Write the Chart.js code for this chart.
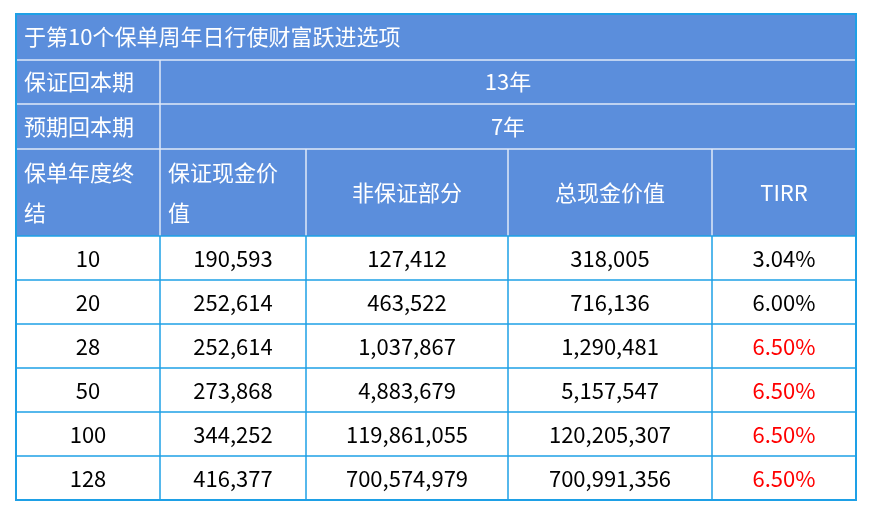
<!DOCTYPE html>
<html>
<head>
<meta charset="utf-8">
<script src="https://cdn.jsdelivr.net/npm/chart.js@4"></script>
<style>
  html, body { margin: 0; padding: 0; background: #fff; }
</style>
</head>
<body>
<canvas id="tableChart" width="872" height="516"></canvas>
<script>
// Table data
const titleText = '于第10个保单周年日行使财富跃进选项';
const infoLabels = ['保证回本期', '预期回本期'];
const infoValues = ['13年', '7年'];
const headers = [['保单年度终', '结'], ['保证现金价', '值'], ['非保证部分'], ['总现金价值'], ['TIRR']];
const years = ['10', '20', '28', '50', '100', '128'];
const guaranteed = ['190,593', '252,614', '252,614', '273,868', '344,252', '416,377'];
const nonGuaranteed = ['127,412', '463,522', '1,037,867', '4,883,679', '119,861,055', '700,574,979'];
const totalValue = ['318,005', '716,136', '1,290,481', '5,157,547', '120,205,307', '700,991,356'];
const tirr = ['3.04%', '6.00%', '6.50%', '6.50%', '6.50%', '6.50%'];

// Layout (scale units)
const colEdges = [0, 144, 290, 492, 696, 840];
const rowEdges = [0, 46, 90, 135, 222, 266, 310, 354, 398, 442, 486];
const headerBg = '#5b8edc';
const borderBlue = '#1ea0e6';
const font = '"Noto Sans CJK SC", "Noto Sans", sans-serif';

const tablePlugin = {
    id: 'tablePlugin',
    afterDraw(chart) {
        const ctx = chart.ctx;
        const x = v => chart.scales.x.getPixelForValue(v);
        const y = v => chart.scales.y.getPixelForValue(v);
        const left = x(0), right = x(840);

        ctx.save();
        // header background
        ctx.fillStyle = headerBg;
        ctx.fillRect(left, y(0), right - left, y(rowEdges[4]) - y(0));

        // header inner lines (white)
        ctx.strokeStyle = '#dfe9f8';
        ctx.lineWidth = 1.5;
        const line = (x1, y1, x2, y2) => {
            ctx.beginPath();
            ctx.moveTo(x1, y1); ctx.lineTo(x2, y2); ctx.stroke();
        };
        for (let r = 1; r <= 3; r++) line(left, y(rowEdges[r]), right, y(rowEdges[r]));
        line(x(colEdges[1]), y(rowEdges[1]), x(colEdges[1]), y(rowEdges[4]));
        for (let c = 2; c < 5; c++) line(x(colEdges[c]), y(rowEdges[3]), x(colEdges[c]), y(rowEdges[4]));

        // body lines (blue)
        ctx.strokeStyle = borderBlue;
        ctx.lineWidth = 1.5;
        for (let r = 4; r < rowEdges.length; r++) line(left, y(rowEdges[r]), right, y(rowEdges[r]));
        for (let c = 1; c < 5; c++) line(x(colEdges[c]), y(rowEdges[4]), x(colEdges[c]), y(rowEdges[10]));
        ctx.lineWidth = 2;
        ctx.strokeRect(left, y(0), right - left, y(486) - y(0));

        // texts
        ctx.font = '22px ' + font;
        ctx.textBaseline = 'middle';
        const midY = r => (y(rowEdges[r]) + y(rowEdges[r + 1])) / 2;
        const midX = c => (x(colEdges[c]) + x(colEdges[c + 1])) / 2;

        ctx.fillStyle = '#ffffff';
        ctx.textAlign = 'left';
        ctx.fillText(titleText, left + 8, midY(0));
        infoLabels.forEach((t, i) => ctx.fillText(t, left + 8, midY(i + 1)));
        ctx.textAlign = 'center';
        const spanMid = (x(colEdges[1]) + right) / 2;
        infoValues.forEach((t, i) => ctx.fillText(t, spanMid, midY(i + 1)));

        headers.forEach((lines, c) => {
            const cy = midY(3);
            if (lines.length === 2) {
                ctx.textAlign = 'left';
                ctx.fillText(lines[0], x(colEdges[c]) + 8, cy - 20);
                ctx.fillText(lines[1], x(colEdges[c]) + 8, cy + 20);
            } else {
                ctx.textAlign = 'center';
                ctx.fillText(lines[0], midX(c), cy);
            }
        });

        ctx.textAlign = 'center';
        const cols = [years, guaranteed, nonGuaranteed, totalValue, tirr];
        years.forEach((_, r) => {
            cols.forEach((col, c) => {
                ctx.fillStyle = (c === 4 && col[r] === '6.50%') ? '#ff0000' : '#000000';
                ctx.fillText(col[r], midX(c), midY(r + 4) + 1);
            });
        });
        ctx.restore();
    }
};

new Chart(document.getElementById('tableChart'), {
    type: 'scatter',
    data: { datasets: [{ data: [] }] },
    options: {
        responsive: false,
        animation: false,
        devicePixelRatio: 1,
        layout: { padding: { left: 16, right: 16, top: 14, bottom: 16 } },
        plugins: { legend: { display: false }, tooltip: { enabled: false } },
        scales: {
            x: { type: 'linear', min: 0, max: 840, display: false },
            y: { type: 'linear', min: 0, max: 486, reverse: true, display: false }
        }
    },
    plugins: [tablePlugin]
});
</script>
</body>
</html>
